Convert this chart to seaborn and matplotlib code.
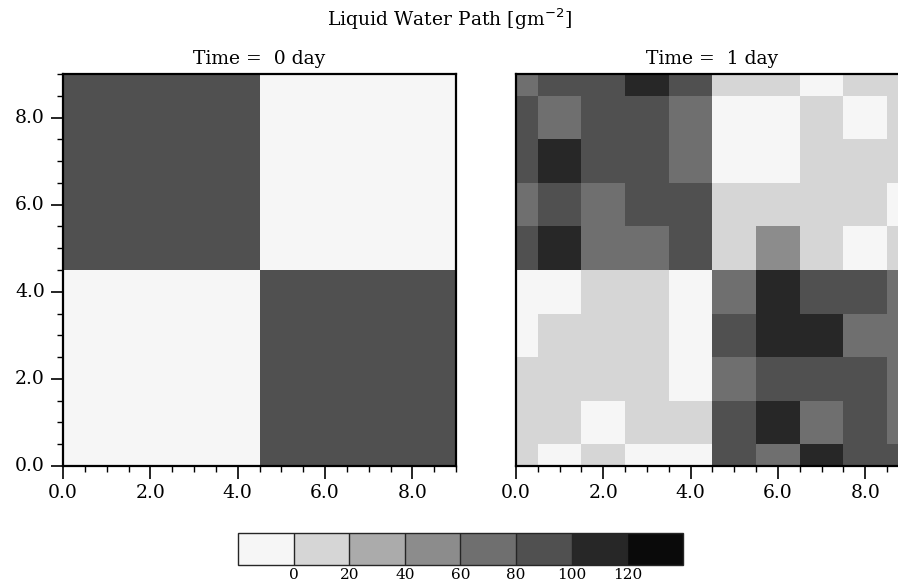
import numpy as np
import matplotlib
matplotlib.use("Agg")
import matplotlib.pyplot as plt
from matplotlib.colors import ListedColormap, BoundaryNorm
import seaborn as sns

# liquid water path (g m-2), rows listed bottom (y=0) to top (y=9), columns x=0..9
lwp_day0 = [
    [0, 0, 0, 0, 0, 90, 90, 90, 90, 90],
    [0, 0, 0, 0, 0, 90, 90, 90, 90, 90],
    [0, 0, 0, 0, 0, 90, 90, 90, 90, 90],
    [0, 0, 0, 0, 0, 90, 90, 90, 90, 90],
    [0, 0, 0, 0, 0, 90, 90, 90, 90, 90],
    [90, 90, 90, 90, 90, 0, 0, 0, 0, 0],
    [90, 90, 90, 90, 90, 0, 0, 0, 0, 0],
    [90, 90, 90, 90, 90, 0, 0, 0, 0, 0],
    [90, 90, 90, 90, 90, 0, 0, 0, 0, 0],
    [90, 90, 90, 90, 90, 0, 0, 0, 0, 0],
]
lwp_day1 = [
    [10, 0, 10, 0, 0, 90, 70, 110, 90, 90],
    [10, 10, 0, 10, 10, 90, 110, 70, 90, 70],
    [10, 10, 10, 10, 0, 70, 90, 90, 90, 70],
    [0, 10, 10, 10, 0, 90, 110, 110, 70, 70],
    [0, 0, 10, 10, 0, 70, 110, 90, 90, 70],
    [90, 110, 70, 70, 90, 10, 50, 10, 0, 10],
    [70, 90, 70, 90, 90, 10, 10, 10, 10, 0],
    [90, 110, 90, 90, 70, 0, 0, 10, 10, 10],
    [90, 70, 90, 90, 70, 0, 0, 10, 0, 10],
    [70, 90, 90, 110, 90, 10, 10, 0, 10, 10],
]
levels = [0, 20, 40, 60, 80, 100, 120]
grays = ["#f6f6f6", "#d6d6d6", "#ababab", "#8c8c8c",
         "#6f6f6f", "#505050", "#272727", "#0a0a0a"]
titles = ["Time =  0 day", "Time =  1 day"]
axis_ticks = [0, 2, 4, 6, 8]

sns.set_style("white")
plt.rcParams["font.family"] = ["DejaVu Serif"]
plt.rcParams["text.color"] = "black"
plt.rcParams["xtick.color"] = "black"
plt.rcParams["ytick.color"] = "black"

cmap = ListedColormap(grays)
# lowest level nudged up so clear (0) cells take the first colour
bounds = [-20, 0.001] + levels[1:] + [140]
norm = BoundaryNorm(bounds, cmap.N)

fig = plt.figure(figsize=(8.98, 5.88), dpi=100)
ax1 = fig.add_axes([0.0702, 0.2075, 0.4376, 0.6667])
ax2 = fig.add_axes([0.5746, 0.2075, 0.4376, 0.6667])
cax = fig.add_axes([0.265, 0.0391, 0.4955, 0.0544])

for ax, data, title in zip([ax1, ax2], [lwp_day0, lwp_day1], titles):
    df = np.array(data, dtype=float)
    sns.heatmap(df, ax=ax, cmap=cmap, norm=norm, cbar=False, square=False)
    # heatmap cell i spans [i, i+1]; grid point g sits at g + 0.5
    ax.set_xlim(0.5, 9.5)
    ax.set_ylim(0.5, 9.5)
    ax.set_xticks([t + 0.5 for t in axis_ticks])
    ax.set_xticklabels([f"{t:.1f}" for t in axis_ticks], rotation=0)
    ax.set_xticks(np.arange(0.5, 9.6, 0.5), minor=True)
    for s in ax.spines.values():
        s.set_visible(True)
        s.set_linewidth(1.6)
        s.set_color("black")
    ax.tick_params(axis="both", which="major", direction="out", length=9,
                   width=1.2, labelsize=13.5, pad=4, bottom=True, left=True)
    ax.tick_params(axis="both", which="minor", direction="out", length=4.5,
                   width=1, bottom=True, left=True)
    ax.set_title(title, fontsize=13.5, pad=7, color="black")
    ax.set_xlabel("")
    ax.set_ylabel("")

ax1.set_yticks([t + 0.5 for t in axis_ticks])
ax1.set_yticklabels([f"{t:.1f}" for t in axis_ticks], rotation=0)
ax1.set_yticks(np.arange(0.5, 9.6, 0.5), minor=True)
ax2.set_yticks([])
ax2.set_yticks([], minor=True)

cb = fig.colorbar(ax1.collections[0], cax=cax, orientation="horizontal",
                  drawedges=True)
cb.set_ticks(bounds[1:-1])
cb.set_ticklabels([str(v) for v in levels])
cb.ax.minorticks_off()
cb.ax.tick_params(length=0, labelsize=11, pad=2)
cb.outline.set_linewidth(1)
cb.dividers.set_linewidth(1)

fig.text(0.5, 0.968, "Liquid Water Path [gm$^{-2}$]", ha="center", va="center",
         fontsize=13.5)

fig.savefig("out.png", dpi=100)
